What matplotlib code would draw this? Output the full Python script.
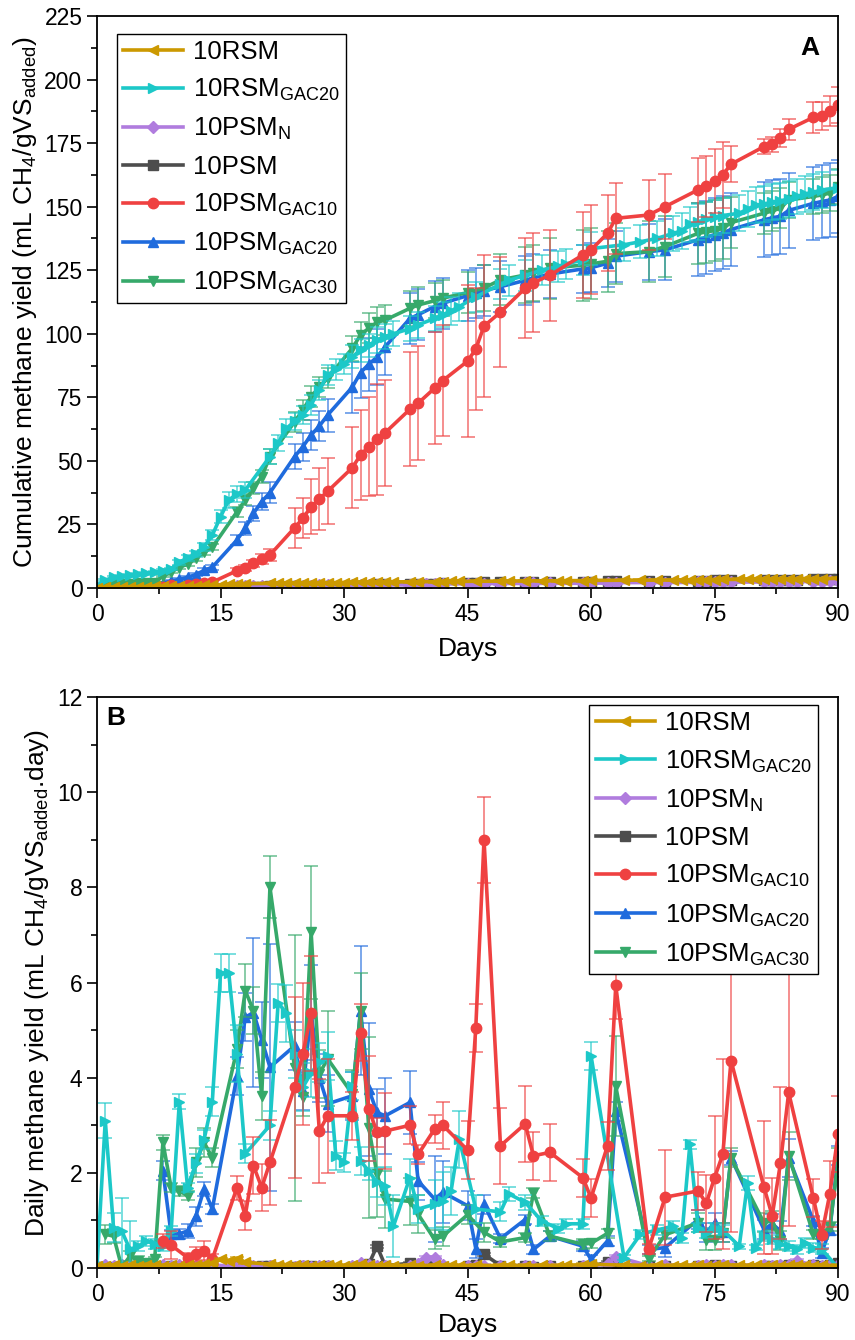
import matplotlib
matplotlib.use('Agg')
import matplotlib.pyplot as plt
from matplotlib.colors import to_rgba
from matplotlib.lines import Line2D
from matplotlib.ticker import MultipleLocator

plt.rcParams['font.family'] = ['Liberation Sans', 'DejaVu Sans']
plt.rcParams['mathtext.fontset'] = 'custom'
plt.rcParams['mathtext.rm'] = 'Liberation Sans'
plt.rcParams['mathtext.it'] = 'Liberation Sans:italic'
plt.rcParams['mathtext.bf'] = 'Liberation Sans:bold'

# ---------------- sampling days ----------------
rsm_days = [0, 1, 2, 3, 4, 5, 6, 7, 8, 9, 10, 11, 12, 13, 14, 15, 16, 17, 18, 21, 22, 23, 24, 25, 26, 27, 28,
            29, 30, 31, 32, 33, 34, 35, 36, 38, 39, 41, 42, 43, 44, 46, 49, 50, 52, 54, 56, 57, 59, 60,
            64, 66, 68, 70, 71, 72, 73, 74, 75, 76, 78, 79, 80, 81, 82, 83, 84, 85, 86, 87, 88, 90]
low_days = [0, 1, 2, 3, 4, 5, 6, 7, 8, 9, 10, 11, 12, 13, 14, 17, 18, 19, 20, 21, 24, 25, 26, 27, 28,
            31, 32, 33, 34, 35, 38, 39, 40, 41, 42, 45, 46, 47, 49, 52, 53, 55, 59, 60, 62, 63, 67, 69,
            73, 74, 75, 76, 77, 81, 82, 83, 84, 85, 87, 88, 89, 90]
red_days = [8, 9, 11, 12, 13, 14, 17, 18, 19, 20, 21, 24, 25, 26, 27, 28, 31, 32, 33, 34, 35, 38, 39, 41, 42,
            45, 46, 47, 49, 52, 53, 55, 59, 60, 62, 63, 67, 69, 73, 74, 75, 76, 77, 81, 82, 83, 84,
            87, 88, 89, 90]
blue_days = [8, 9, 10, 11, 12, 13, 14, 17, 18, 19, 20, 21, 24, 25, 26, 27, 28, 31, 32, 33, 34, 35, 38, 39,
             41, 42, 45, 46, 47, 49, 52, 53, 55, 59, 60, 62, 63, 67, 69, 73, 74, 75, 76, 77, 81, 82,
             83, 84, 87, 88, 89, 90]
green_days = [1, 2, 3, 4, 5, 6, 7, 8, 9, 10, 11, 12, 13, 14, 17, 18, 19, 20, 21, 24, 25, 26, 27, 28, 31, 32,
              33, 34, 35, 38, 39, 41, 42, 45, 47, 49, 52, 53, 55, 59, 60, 62, 63, 67, 69, 73, 74, 75,
              76, 77, 81, 82, 83, 84, 87, 88, 89, 90]

# ---------------- cumulative yield (panel A) ----------------
gold_cum = [0.1, 0.2, 0.3, 0.35, 0.4, 0.5, 0.55, 0.6, 0.7, 0.75, 0.8, 0.85, 0.9, 1.0, 1.1, 1.25, 1.4, 1.6, 1.7,
            1.8, 1.85, 1.9, 1.95, 2.0, 2.0, 2.05, 2.1, 2.1, 2.15, 2.2, 2.25, 2.3, 2.3, 2.35, 2.4,
            2.45, 2.5, 2.5, 2.55, 2.6, 2.6, 2.65, 2.7, 2.75, 2.8, 2.8, 2.85, 2.9, 2.9, 3.0,
            3.05, 3.1, 3.1, 3.15, 3.2, 3.2, 3.25, 3.3, 3.3, 3.35,
            3.4, 3.4, 3.45, 3.5, 3.5, 3.55, 3.6, 3.6, 3.65, 3.7, 3.7, 3.8]
cyan_cum = [1.0, 3.1, 4.2, 4.7, 5.0, 5.4, 5.8, 6.2, 6.8, 7.5, 10.2, 11.8, 13.5, 16.2, 20.8, 28.0, 34.6, 37.0,
            38.5, 51.7, 57.0, 62.8, 65.5, 68.0, 72.0, 78.0, 83.8, 86.0, 88.0, 91.0, 93.5, 95.5, 97.5,
            98.9, 100.0, 102.0, 103.5, 106.0, 107.5, 109.0, 110.7, 114.5, 119.5, 121.0, 123.0, 125.0,
            126.5, 127.5, 129.0, 133.5, 135.0, 136.2, 137.5, 139.5, 140.5, 143.0, 144.0, 145.0, 145.8,
            146.5, 147.4, 149.0, 150.6, 151.0, 151.8, 152.3, 153.0, 154.0, 155.0, 155.7, 156.5, 157.5]
cyan_cum_err = [0.5, 0.5, 0.5, 0.5, 0.5, 0.5, 0.5, 0.5, 0.5, 0.5, 1, 1, 1.2, 1.5, 2, 2.5, 3, 3, 3,
                3, 3, 3.5, 3.5, 3.5, 4, 4, 4, 4, 4, 4.5, 4.5, 4.5, 5, 5, 5,
                5, 5, 5, 5, 5.5, 5.5, 6, 6, 6, 6, 6, 6, 6, 6, 6.5,
                6.5, 6.5, 7, 7, 7, 7, 7, 7, 7, 7, 7, 7, 7, 7, 7, 7, 7, 7, 7, 7, 7, 7]
purple_cum = [0.05, 0.1, 0.15, 0.2, 0.25, 0.3, 0.35, 0.4, 0.45, 0.5, 0.55, 0.6, 0.6, 0.65, 0.7,
              0.75, 0.8, 0.8, 0.85, 0.85, 0.9, 0.9, 0.95, 1.0, 1.0, 1.05, 1.1, 1.15, 1.15, 1.2,
              1.2, 1.25, 1.4, 1.6, 1.65, 1.7, 1.7, 1.75, 1.75, 1.8, 1.8, 1.85, 1.85, 1.9, 1.95, 2.1,
              2.15, 2.15, 2.2, 2.25, 2.25, 2.3, 2.3, 2.35, 2.35, 2.4, 2.4, 2.5, 2.55, 2.55, 2.6, 2.6]
gray_cum = [0.03, 0.05, 0.08, 0.1, 0.13, 0.15, 0.18, 0.2, 0.23, 0.27, 0.3, 0.32, 0.35, 0.37, 0.4,
            0.45, 0.5, 0.53, 0.58, 0.62, 0.65, 0.7, 0.75, 0.78, 0.82, 0.85, 0.9, 0.98, 1.45, 1.5,
            1.6, 1.65, 1.7, 1.75, 1.8, 1.85, 1.9, 2.2, 2.25, 2.3, 2.35, 2.4, 2.45, 2.5, 2.6, 2.7,
            2.75, 2.8, 2.85, 2.9, 2.95, 3.0, 3.05, 3.1, 3.15, 3.2, 3.25, 3.3, 3.35, 3.4, 3.45, 3.55]
red_cum = [0.5, 1.0, 1.3, 1.6, 2.0, 2.3, 6.8, 8.0, 9.7, 11.3, 13.0, 23.7, 27.4, 32.0, 35.0, 38.0, 47.3,
           52.3, 55.6, 58.5, 61.1, 70.3, 72.7, 78.6, 81.6, 89.2, 94.0, 103.0, 108.5, 117.9, 120.1,
           123.0, 131.0, 133.0, 139.5, 145.4, 146.7, 150.0, 156.6, 158.1, 160.0, 162.5, 166.7, 173.6,
           174.5, 176.9, 180.4, 185.1, 185.8, 187.6, 190.0]
red_cum_err = [0.3, 0.4, 0.5, 0.5, 0.6, 0.6, 1.0, 1.2, 1.5, 2.0, 2.5, 7.9, 7.9, 10.8, 12, 13, 16, 17.7, 19.6,
               21.9, 20.8, 22.4, 22.4, 22, 22, 30, 24, 28, 21.5, 19.7, 19.6, 18, 17, 17.5, 15, 14,
               13.6, 12.7, 12.7, 12, 12.5, 13, 7, 3, 3, 3.5, 4, 6, 5.5, 6, 7]
blue_cum = [2.0, 2.7, 3.4, 4.2, 5.3, 6.9, 8.2, 18.9, 23.5, 29.4, 34.0, 37.5, 51.7, 55.6, 60.2, 63.7, 68.0,
            79.0, 84.7, 88.0, 90.8, 94.9, 106.0, 107.5, 110.7, 112.0, 115.0, 116.0, 117.0, 118.5,
            121.0, 122.0, 123.5, 125.5, 126.0, 127.7, 130.5, 132.3, 133.0, 137.0, 138.0, 139.0,
            139.7, 141.0, 144.8, 145.6, 146.2, 148.5, 151.3, 152.0, 152.6, 154.0]
blue_cum_err = [0.3, 0.4, 0.5, 0.5, 0.6, 0.8, 1.0, 2, 2.5, 3, 3.5, 4, 5, 5.5, 6, 6, 6.5, 10, 10, 10.5, 11,
                11, 10, 10, 10, 10, 10, 10, 10, 10, 9.5, 9.5, 9.5, 9.5, 9.5, 9.5, 10, 11, 12,
                14.4, 14.4, 14.4, 14.4, 14.4, 14.7, 14.7, 14.7, 14.7, 14.4, 14.4, 14.4, 14.4]
green_cum = [0.7, 1.4, 1.4, 1.6, 1.8, 1.9, 2.1, 4.7, 6.4, 8.0, 9.5, 11.7, 14.0, 16.0, 30.0, 34.6, 39.3, 43.8,
             51.7, 65.4, 70.0, 75.3, 79.0, 82.5, 94.3, 99.5, 102.2, 104.5, 105.4, 110.0, 111.3, 113.0,
             114.0, 116.2, 118.0, 121.2, 123.1, 124.0, 125.8, 127.0, 127.5, 128.5, 131.5, 132.3,
             134.3, 139.5, 140.0, 140.6, 141.4, 143.7, 147.4, 148.3, 149.4, 152.6, 154.0, 154.6,
             155.3, 157.9]
green_cum_err = [0.3, 0.3, 0.3, 0.3, 0.3, 0.3, 0.3, 0.5, 0.6, 0.7, 0.8, 1.0, 1.0, 1.2, 2, 2, 2.5, 2.5, 3,
                 4, 4, 4, 4, 4, 5, 5, 6, 6, 6, 7, 7, 7, 7, 8, 9, 10, 11, 11, 12, 14, 14, 12, 12,
                 12, 12, 12, 12, 12, 12, 10, 8, 8, 8, 7, 7, 7, 7, 7]

# ---------------- daily yield (panel B) ----------------
gold_daily = [0.04, 0.05, 0.06, 0.05, 0.06, 0.05, 0.07, 0.06, 0.05, 0.06, 0.05, 0.06, 0.07, 0.08, 0.10,
              0.18, 0.15, 0.20, 0.12, 0.08, 0.07, 0.06, 0.07, 0.06, 0.05, 0.06, 0.07,
              0.06, 0.05, 0.06, 0.08, 0.06, 0.05, 0.06, 0.05, 0.06, 0.05, 0.06, 0.05, 0.06, 0.05,
              0.06, 0.05, 0.06, 0.05, 0.06, 0.05, 0.06, 0.07, 0.08, 0.06, 0.05, 0.06, 0.05, 0.06,
              0.05, 0.06, 0.05, 0.06, 0.07, 0.06, 0.05, 0.06, 0.05, 0.06, 0.05, 0.06, 0.07, 0.06,
              0.05, 0.06, 0.05]
cyan_daily = [0.05, 3.10, 0.85, 0.78, 0.39, 0.46, 0.57, 0.50, 0.46, 0.78, 3.50, 1.69, 2.20, 2.70, 3.50,
              6.20, 6.20, 4.50, 2.40, 3.00, 5.58, 5.35, 4.50, 3.80, 4.10, 4.32, 4.46, 2.36, 2.22, 3.83,
              2.25, 2.04, 1.80, 1.73, 0.88, 1.90, 1.24, 1.34, 1.41, 1.62, 2.71, 1.24, 1.18, 1.56, 1.38,
              0.99, 0.83, 0.93, 0.93, 4.46, 0.22, 0.71, 0.80, 0.88, 0.63, 2.60, 0.85, 0.74, 0.85, 0.80,
              0.46, 1.78, 0.43, 0.67, 0.60, 0.50, 0.46, 0.39, 0.53, 0.43, 0.40, 0.00]
cyan_daily_err = [0.05, 0.37, 0.3, 0.7, 0.6, 0.1, 0.1, 0.1, 0.1, 0.1, 0.15, 0.1, 0.2, 0.2, 0.3, 0.4, 0.4,
                  0.6, 0.2, 0.3, 0.4, 0.6, 0.5, 0.5, 0.5, 0.4, 0.5, 0.3, 0.2, 0.3, 0.3, 0.2, 0.3, 0.4,
                  0.65, 0.4, 0.3, 0.5, 0.6, 0.5, 0.6, 0.3, 0.2, 0.15, 0.15, 0.1, 0.1, 0.1, 0.1, 0.3,
                  0.05, 0.1, 0.1, 0.1, 0.1, 0.1, 0.1, 0.1, 0.1, 0.1, 0.05, 0.15, 0.05, 0.1, 0.1, 0.1,
                  0.1, 0.1, 0.1, 0.1, 0.1, 0.05]
purple_daily = [0.05, 0.06, 0.05, 0.06, 0.05, 0.07, 0.06, 0.05, 0.06, 0.05, 0.06, 0.05, 0.04, 0.05, 0.06,
                0.04, 0.05, 0.04, 0.03, 0.04, 0.03, 0.04, 0.03, 0.05, 0.04, 0.05, 0.10, 0.06, 0.05,
                0.04, 0.05, 0.08, 0.22, 0.22, 0.06, 0.04, 0.05, 0.05, 0.04, 0.05, 0.04, 0.05, 0.04,
                0.05, 0.08, 0.24, 0.05, 0.06, 0.05, 0.06, 0.05, 0.07, 0.06, 0.06, 0.05, 0.07, 0.06,
                0.15, 0.06, 0.05, 0.06, 0.07]
gray_daily = [0.03, 0.02, 0.03, 0.02, 0.03, 0.02, 0.03, 0.02, 0.03, 0.04, 0.03, 0.02, 0.03, 0.02, 0.03,
              0.05, 0.04, 0.03, 0.05, 0.04, 0.03, 0.04, 0.05, 0.03, 0.04, 0.03, 0.04, 0.08, 0.46, 0.05,
              0.10, 0.04, 0.05, 0.04, 0.03, 0.04, 0.06, 0.29, 0.05, 0.05, 0.03, 0.04, 0.05, 0.04,
              0.12, 0.08, 0.04, 0.05, 0.05, 0.04, 0.06, 0.05, 0.04, 0.04, 0.05, 0.04, 0.06, 0.05,
              0.06, 0.05, 0.07, 0.10]
red_daily = [0.57, 0.48, 0.22, 0.29, 0.36, 0.19, 1.69, 1.10, 2.15, 1.69, 2.22, 3.80, 4.50, 5.35, 2.88, 3.20,
             3.20, 4.95, 3.35, 2.85, 2.88, 3.00, 2.39, 2.92, 3.00, 2.48, 5.05, 9.00, 2.57, 3.03, 2.36,
             2.43, 1.90, 1.47, 2.57, 5.94, 0.40, 1.49, 1.62, 1.36, 1.90, 2.39, 4.36, 1.70, 1.10, 2.20,
             3.69, 1.47, 0.69, 1.56, 2.81]
red_daily_err = [0.15, 0.3, 0.1, 0.15, 0.2, 0.1, 0.25, 0.3, 0.6, 0.5, 0.9, 1.9, 1.5, 1.2, 1.1, 1.2, 0.5,
                 0.6, 1.1, 0.3, 0.8, 0.4, 0.2, 0.3, 0.5, 0.6, 0.5, 0.9, 0.8, 0.8, 0.5, 0.6, 0.4, 0.4,
                 0.5, 0.7, 0.1, 1.0, 0.4, 0.6, 1.3, 2.0, 3.6, 1.4, 0.8, 1.6, 2.8, 0.4, 0.3, 0.7, 0.8]
blue_daily = [2.04, 0.71, 0.72, 0.78, 1.09, 1.66, 1.24, 4.04, 5.27, 5.37, 4.80, 4.22, 4.67, 3.73, 5.37, 4.00,
              3.45, 3.62, 5.41, 3.76, 3.27, 3.20, 3.48, 1.83, 1.45, 1.59, 1.31, 0.41, 1.34, 0.62, 1.02,
              0.39, 0.67, 0.46, 0.18, 0.57, 3.30, 0.39, 0.43, 1.02, 0.75, 0.95, 0.75, 2.32, 0.81, 0.93,
              0.78, 2.32, 0.99, 0.32, 0.80, 2.36]
blue_daily_err = [0.2, 0.1, 0.1, 0.15, 0.2, 0.15, 0.1, 0.4, 0.5, 1.56, 0.8, 2.6, 0.5, 0.4, 1.0, 0.5, 0.6,
                  0.5, 1.35, 1.4, 0.5, 0.8, 0.66, 0.4, 0.9, 0.65, 0.3, 0.2, 0.2, 0.1, 0.1, 0.1, 0.1,
                  0.1, 0.1, 0.1, 0.2, 0.1, 0.2, 0.2, 0.2, 0.2, 0.2, 0.15, 0.2, 0.2, 0.2, 0.4, 0.1,
                  0.1, 0.1, 0.2]
green_daily = [0.71, 0.67, 0.02, 0.25, 0.15, 0.10, 0.18, 2.64, 1.69, 1.62, 1.52, 2.22, 2.64, 2.32, 4.60,
               5.83, 5.41, 3.62, 8.00, 4.20, 3.60, 7.06, 4.08, 4.40, 3.66, 5.41, 2.95, 1.97, 1.45, 1.40,
               1.13, 0.60, 0.67, 1.12, 0.75, 0.55, 0.64, 1.58, 0.67, 0.50, 0.52, 0.73, 3.82, 0.20,
               0.70, 0.95, 0.58, 0.58, 0.74, 2.32, 0.95, 1.00, 0.57, 2.36, 0.71, 0.71, 0.87, 2.22]
green_daily_err = [0.2, 0.15, 0.05, 0.1, 0.1, 0.05, 0.05, 0.15, 0.1, 0.1, 0.1, 0.3, 0.3, 0.2, 0.4, 0.55,
                   0.5, 0.5, 0.65, 2.8, 0.4, 1.4, 0.5, 1.0, 0.5, 0.8, 1.9, 0.9, 0.6, 0.5, 0.4, 0.2,
                   0.2, 0.2, 0.2, 0.1, 0.1, 0.1, 0.1, 0.1, 0.1, 0.1, 1.05, 0.05, 0.1, 0.2, 0.2, 0.2,
                   0.2, 0.2, 0.2, 0.2, 0.2, 0.5, 0.1, 0.1, 0.1, 0.3]

labels = ['10RSM', '10RSM$_\\mathregular{GAC20}$', '10PSM$_\\mathregular{N}$', '10PSM',
          '10PSM$_\\mathregular{GAC10}$', '10PSM$_\\mathregular{GAC20}$', '10PSM$_\\mathregular{GAC30}$']
colors = ['#CC9900', '#1CC8C8', '#B07CDE', '#4D4D4D', '#EF4141', '#1F6BDD', '#36A96A']
markers = ['<', '>', 'D', 's', 'o', '^', 'v']

# (legend index, days, values, error) in drawing order
cum_series = [
    (3, low_days, gray_cum, 0.4),
    (2, low_days, purple_cum, 0.4),
    (5, blue_days, blue_cum, blue_cum_err),
    (6, green_days, green_cum, green_cum_err),
    (1, rsm_days, cyan_cum, cyan_cum_err),
    (4, red_days, red_cum, red_cum_err),
    (0, rsm_days, gold_cum, 0.4),
]
daily_series = [
    (3, low_days, gray_daily, 0.03),
    (2, low_days, purple_daily, 0.03),
    (5, blue_days, blue_daily, blue_daily_err),
    (6, green_days, green_daily, green_daily_err),
    (1, rsm_days, cyan_daily, cyan_daily_err),
    (4, red_days, red_daily, red_daily_err),
    (0, rsm_days, gold_daily, 0.03),
]

fig = plt.figure(figsize=(8.55, 13.4), dpi=100)
ax1 = fig.add_axes([0.1135, 0.5612, 0.8667, 0.4269])
ax2 = fig.add_axes([0.1135, 0.0537, 0.8667, 0.4261])


def draw(ax, series):
    for idx, x, y, err in series:
        c = colors[idx]
        ax.errorbar(x, y, yerr=err, fmt='none', ecolor=to_rgba(c, 0.75), elinewidth=1.1,
                    capsize=5, capthick=1.1)
        ms = 6 if markers[idx] == 'D' else 7.5
        ax.plot(x, y, color=c, lw=2.6, marker=markers[idx], ms=ms)


def legend(ax, anchor, loc):
    handles = [Line2D([], [], color=colors[i], lw=2.6, marker=markers[i],
                      ms=6 if markers[i] == 'D' else 7.5) for i in range(7)]
    leg = ax.legend(handles, labels, loc=loc, bbox_to_anchor=anchor, borderaxespad=0,
                    fontsize=18.5, frameon=True, fancybox=False, framealpha=1,
                    edgecolor='black', handlelength=2.3, handletextpad=0.4,
                    labelspacing=0.5, borderpad=0.25)
    leg.get_frame().set_linewidth(1.0)


def style(ax, ymax, ymajor, yminor, xpad):
    ax.set_xlim(0, 90)
    ax.set_ylim(0, ymax)
    ax.xaxis.set_major_locator(MultipleLocator(15))
    ax.xaxis.set_minor_locator(MultipleLocator(7.5))
    ax.yaxis.set_major_locator(MultipleLocator(ymajor))
    ax.yaxis.set_minor_locator(MultipleLocator(yminor))
    ax.tick_params(which='both', direction='out', width=1.2, labelsize=16.5, top=False, right=False)
    ax.tick_params(which='major', length=7)
    ax.tick_params(which='minor', length=4)
    for s in ax.spines.values():
        s.set_linewidth(1.3)
    ax.set_xlabel('Days', fontsize=19, labelpad=xpad)


draw(ax1, cum_series)
style(ax1, 225, 25, 12.5, 8)
ax1.set_ylabel('Cumulative methane yield (mL CH$_\\mathregular{4}$/gVS$_\\mathregular{added}$)',
               fontsize=19, labelpad=4)
legend(ax1, (0.027, 0.9685), 'upper left')
ax1.text(0.975, 0.965, 'A', transform=ax1.transAxes, ha='right', va='top', fontsize=19, fontweight='bold')

draw(ax2, daily_series)
style(ax2, 12, 2, 1, 5)
ax2.set_ylabel('Daily methane yield (mL CH$_\\mathregular{4}$/gVS$_\\mathregular{added}$.day)',
               fontsize=19, labelpad=4)
legend(ax2, (0.973, 0.986), 'upper right')
ax2.text(0.012, 0.985, 'B', transform=ax2.transAxes, ha='left', va='top', fontsize=19, fontweight='bold')

fig.savefig('out.png', dpi=100)
